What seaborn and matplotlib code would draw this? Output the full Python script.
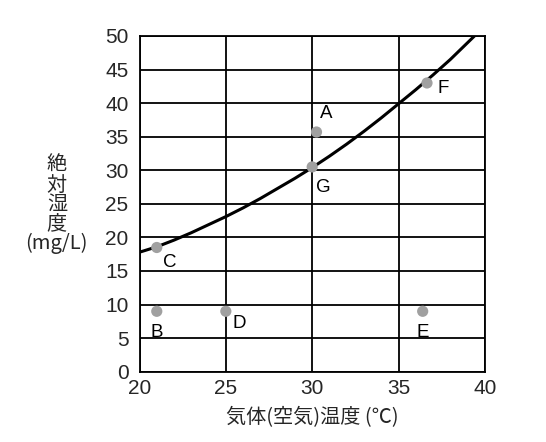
import matplotlib
matplotlib.use("Agg")
import matplotlib.pyplot as plt
import seaborn as sns
import pandas as pd

# Saturation curve
curve_temp = [20, 21, 22, 23, 24, 25, 26, 27, 28, 29, 30, 31, 32, 33, 34, 35, 36, 37, 38, 39, 40]
curve_hum = [17.8, 18.6, 19.6, 20.7, 21.9, 23.1, 24.4, 25.8, 27.3, 28.8, 30.4, 32.1, 33.9,
             35.8, 37.8, 39.9, 42.0, 44.2, 46.5, 49.0, 51.5]

# Labelled points
pt_names = ["A", "B", "C", "D", "E", "F", "G"]
pt_temp = [30.25, 21.0, 21.0, 25.0, 36.4, 36.65, 30.0]
pt_hum = [35.7, 9.0, 18.5, 9.0, 9.0, 43.0, 30.5]

x_ticks = [20, 25, 30, 35, 40]
y_ticks = [0, 5, 10, 15, 20, 25, 30, 35, 40, 45, 50]

sns.set_theme(style="white")
plt.rcParams["font.family"] = ["Liberation Sans", "Noto Sans CJK JP", "DejaVu Sans"]

fig = plt.figure(figsize=(5.46, 4.42), dpi=100)
ax = fig.add_axes([0.2555, 0.159, 0.6325, 0.7596])

curve_df = pd.DataFrame({"t": curve_temp, "h": curve_hum})
pts_df = pd.DataFrame({"name": pt_names, "t": pt_temp, "h": pt_hum})

sns.lineplot(data=curve_df, x="t", y="h", ax=ax, color="black", linewidth=2.2, zorder=3)
sns.scatterplot(data=pts_df, x="t", y="h", ax=ax, color="#a0a0a0", s=65,
                edgecolor="none", zorder=4)

offsets = {"A": (7, 13), "B": (0, -15), "C": (9, -11), "D": (10, -9),
           "E": (0, -15), "F": (12, -4), "G": (8, -15)}
for n, t, h in zip(pt_names, pt_temp, pt_hum):
    dx, dy = offsets[n]
    ax.annotate(n, (t, h), xytext=(dx, dy), textcoords="offset points",
                ha="center", va="center", fontsize=13.5, color="black", zorder=5)

ax.set_xlim(20, 40)
ax.set_ylim(0, 50)
ax.set_xticks(x_ticks)
ax.set_yticks(y_ticks)
ax.set_xticklabels([str(v) for v in x_ticks], fontsize=15)
ax.set_yticklabels([str(v) for v in y_ticks], fontsize=15)
ax.tick_params(axis="both", length=0)
ax.tick_params(axis="x", pad=5)
ax.tick_params(axis="y", pad=8)
ax.grid(True, color="black", linewidth=1.3)
for s in ax.spines.values():
    s.set_color("black")
    s.set_linewidth(1.3)
    s.set_visible(True)
ax.set_axisbelow(True)

ax.set_xlabel("気体(空気)温度 (℃)", fontsize=14.5,
              family=["Noto Sans CJK JP", "DejaVu Sans"], labelpad=7)
ax.set_ylabel("")
fig.text(0.104, 0.537, "絶\n対\n湿\n度\n(mg/L)", ha="center", va="center",
         fontsize=14.5, linespacing=0.9, family=["Noto Sans CJK JP", "DejaVu Sans"])

fig.savefig("out.png", dpi=100)
